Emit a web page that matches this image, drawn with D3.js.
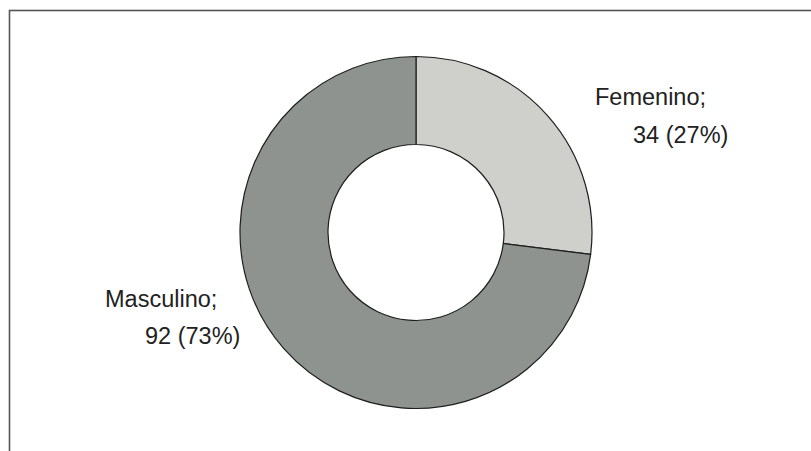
<!DOCTYPE html>
<html>
<head>
<meta charset="utf-8">
<script src="https://cdn.jsdelivr.net/npm/d3@7"></script>
<style>
  html, body { margin: 0; padding: 0; background: #ffffff; }
  svg { display: block; }
</style>
</head>
<body>
<svg id="chart" width="811" height="451"></svg>
<script>
// Data
const categories = ["Femenino", "Masculino"];
const values = [34, 92];
const percents = ["27%", "73%"];
const colors = ["#cfd0cc", "#8f938f"];

const svg = d3.select("#chart");
const W = 811, H = 451;

// Outer frame (only top and left visible in the crop)
svg.append("rect")
  .attr("x", 9.5).attr("y", 10.5)
  .attr("width", 840).attr("height", 480)
  .attr("fill", "#ffffff")
  .attr("stroke", "#555555")
  .attr("stroke-width", 1.6);

const cx = 416, cy = 232.5;
const outerR = 176, innerR = 88;

const pie = d3.pie().sort(null).value(d => d.value);
const data = categories.map((c, i) => ({ cat: c, value: values[i], pct: percents[i], color: colors[i] }));
const arcs = pie(data);
const arc = d3.arc().innerRadius(innerR).outerRadius(outerR);

const g = svg.append("g").attr("transform", `translate(${cx},${cy})`);
g.selectAll("path.slice")
  .data(arcs)
  .join("path")
  .attr("class", "slice")
  .attr("d", arc)
  .attr("fill", d => d.data.color)
  .attr("stroke", "#1e1e1e")
  .attr("stroke-width", 1.2)
  .attr("stroke-linejoin", "round");

// Labels: two lines each, positioned outside the ring
const labelPos = {
  "Femenino": { x1: 595, y1: 105, x2: 633, y2: 143 },
  "Masculino": { x1: 105, y1: 307, x2: 145, y2: 344 }
};
const labels = svg.append("g")
  .attr("font-family", "'Liberation Sans', Arial, sans-serif")
  .attr("font-size", 23.5)
  .attr("fill", "#222222");

arcs.forEach(a => {
  const p = labelPos[a.data.cat];
  labels.append("text")
    .attr("x", p.x1).attr("y", p.y1)
    .text(a.data.cat + ";");
  labels.append("text")
    .attr("x", p.x2).attr("y", p.y2)
    .text(`${a.data.value} (${a.data.pct})`);
});
</script>
</body>
</html>
